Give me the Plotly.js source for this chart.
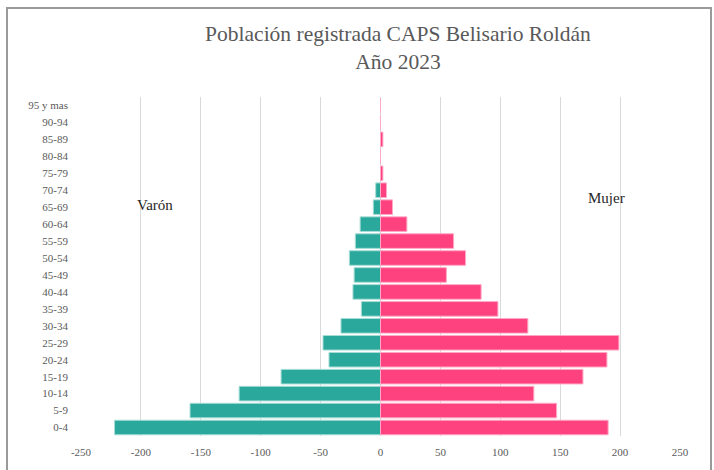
<!DOCTYPE html>
<html>
<head>
<meta charset="utf-8">
<script src="https://cdn.plot.ly/plotly-3.0.1.min.js"></script>
<style>
  html, body { margin: 0; padding: 0; background: #ffffff; }
  #chart { width: 714px; height: 470px; }
</style>
</head>
<body>
<div id="chart"></div>
<script>
// Age groups, bottom to top
const ageGroups = ["0-4","5-9","10-14","15-19","20-24","25-29","30-34","35-39","40-44","45-49",
                   "50-54","55-59","60-64","65-69","70-74","75-79","80-84","85-89","90-94","95 y mas"];
// Varón (drawn to the left, negative)
const varon = [-222,-159,-118,-83,-43,-48,-33,-16,-23,-22,-26,-21,-17,-6,-4,0,0,0,0,0];
// Mujer (drawn to the right)
const mujer = [190,147,128,169,189,199,123,98,84,55,71,61,22,10,5,2,0,2,0,0];

const xTickVals = [-250,-200,-150,-100,-50,0,50,100,150,200,250];
const xTickText = ["-250","-200","-150","-100","-50","0","50","100","150","200","250"];

const titleText = "Población registrada CAPS Belisario Roldán<br>Año 2023";
const labelVaron = "Varón";
const labelMujer = "Mujer";

const serif = "Liberation Serif";

const traces = [
  {
    type: "bar", orientation: "h", name: "Varón",
    y: ageGroups, x: varon,
    marker: { color: "#2aa89c", line: { color: "#a6ddd7", width: 1 } },
    hoverinfo: "skip"
  },
  {
    type: "bar", orientation: "h", name: "Mujer",
    y: ageGroups, x: mujer,
    marker: { color: "#fe417f", line: { color: "#ffa8c6", width: 1 } },
    hoverinfo: "skip"
  }
];

const bx0 = (7-81)/599, bx1 = (711-81)/599, by0 = (436-475)/339, by1 = (436-8)/339;
const borderLine = { color: "#9a9a9a", width: 2 };

const layout = {
  width: 714, height: 470,
  paper_bgcolor: "#ffffff", plot_bgcolor: "#ffffff",
  margin: { l: 81, r: 34, t: 97, b: 34 },
  showlegend: false,
  barmode: "overlay",
  bargap: 0.14,
  font: { family: serif, color: "#595959", size: 11 },
  title: {
    text: titleText,
    font: { family: serif, size: 21.5, color: "#595959" },
    x: 398/714, xref: "container", xanchor: "center",
    y: 1 - 41/470, yref: "container", yanchor: "top"
  },
  xaxis: {
    range: [-250, 250],
    tickvals: xTickVals, ticktext: xTickText,
    showgrid: true, gridcolor: "#d9d9d9", gridwidth: 1,
    zeroline: false, showline: false, ticks: "",
    ticklabelstandoff: 8,
    tickfont: { family: serif, size: 11, color: "#595959" },
    fixedrange: true
  },
  yaxis: {
    type: "category",
    showgrid: false, zeroline: false, showline: false, ticks: "",
    ticklabelstandoff: 12,
    tickfont: { family: serif, size: 11, color: "#595959" },
    fixedrange: true
  },
  annotations: [
    { text: labelVaron, xref: "paper", yref: "paper", x: 0.09, y: 0.712,
      showarrow: false, font: { family: serif, size: 15, color: "#262626" } },
    { text: labelMujer, xref: "paper", yref: "paper", x: 0.911, y: 0.732,
      showarrow: false, font: { family: serif, size: 15, color: "#262626" } }
  ],
  shapes: [
    { type: "path", xref: "paper", yref: "paper",
      path: "M " + bx0 + " " + by0 + " L " + bx0 + " " + by1 + " L " + bx1 + " " + by1 + " L " + bx1 + " " + by0,
      line: borderLine, layer: "above" }
  ]
};

Plotly.newPlot("chart", traces, layout, { displayModeBar: false, staticPlot: true });
</script>
</body>
</html>
